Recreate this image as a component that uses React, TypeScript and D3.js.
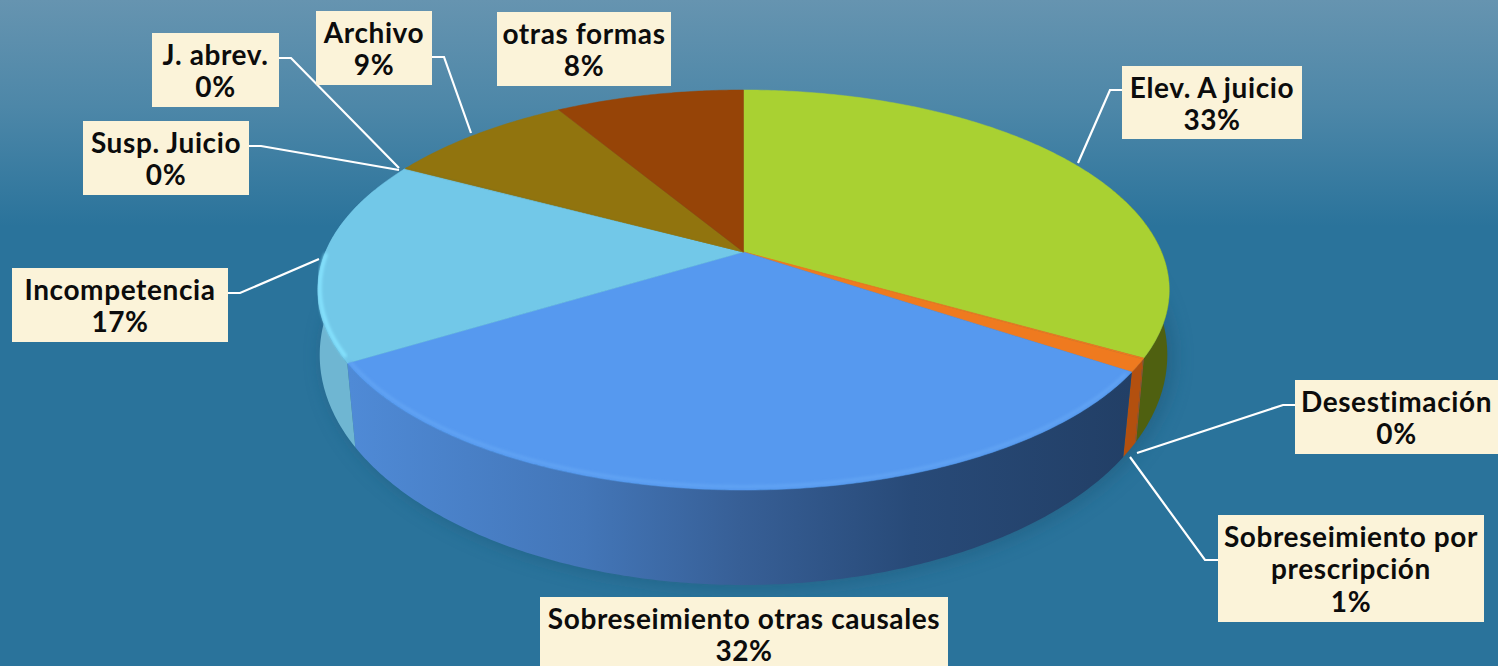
import React from "react";
import * as d3 from "d3";

const categories = ["Elev. A juicio", "Desestimación", "Sobreseimiento por prescripción", "Sobreseimiento otras causales", "Incompetencia", "Susp. Juicio", "J. abrev.", "Archivo", "otras formas"];
const values = [33.3, 0.1, 1.0, 31.9, 16.4, 0.1, 0.1, 8.5, 8.6];
const percentLabels = ["33%", "0%", "1%", "32%", "17%", "0%", "0%", "9%", "8%"];

const topColors = ["#a9d132", "#ef7a1f", "#ef7a1f", "#5699ef", "#72c8e8", "#72c8e8", "#91740e", "#91740e", "#964407"];
const wallColors = ["#4f6010", "#b3500f", "#b3500f", "url(#blueWall)", "#6fb6d2", "#6fb6d2", "#6b5608", "#6b5608", "#6b3005"];

type Box = { x: number; y: number; w: number; h: number; lines: string[]; leader: [number, number][] };
const boxes: Box[] = [
  { x: 1122, y: 66, w: 180, h: 73, lines: ["Elev. A juicio"], leader: [[1122, 90], [1110, 90], [1078, 163]] },
  { x: 1295, y: 380, w: 203, h: 74, lines: ["Desestimación"], leader: [[1295, 405], [1283, 405], [1137, 453]] },
  { x: 1218, y: 515, w: 266, h: 107, lines: ["Sobreseimiento por", "prescripción"], leader: [[1218, 560], [1205, 560], [1130, 457]] },
  { x: 540, y: 597, w: 408, h: 74, lines: ["Sobreseimiento otras causales"], leader: [] },
  { x: 12, y: 268, w: 216, h: 74, lines: ["Incompetencia"], leader: [[228, 293], [240, 293], [319, 259]] },
  { x: 83, y: 121, w: 166, h: 74, lines: ["Susp. Juicio"], leader: [[249, 146], [261, 146], [399, 170]] },
  { x: 152, y: 33, w: 127, h: 74, lines: ["J. abrev."], leader: [[279, 58], [291, 58], [399, 168]] },
  { x: 316, y: 11, w: 116, h: 74, lines: ["Archivo"], leader: [[432, 57], [444, 57], [471, 133]] },
  { x: 497, y: 12, w: 174, h: 74, lines: ["otras formas"], leader: [] },
];

const W = 1498, H = 666;
const CX = 743.5;

// perspective projection of a tilted disc: t is the clockwise angle from the top
const project = (t: number, p: number, y0: number, kx: number, ky: number): [number, number] => {
  const u = Math.sin(t), v = -Math.cos(t);
  const w = 1 + p * v;
  return [CX + (kx * u) / w, y0 + (ky * v) / w];
};
const topRim = (t: number) => project(t, -0.19, 252, 418, 192.8);
const botRim = (t: number) => project(t, -0.15, 320.5, 419, 224.8);

const arcPts = (a: number, b: number, f: (t: number) => [number, number]) => {
  const n = Math.max(2, Math.ceil(Math.abs(b - a) / 0.01));
  return d3.range(n + 1).map((i) => f(a + ((b - a) * i) / n));
};

const line = d3.line<[number, number]>().x((d) => d[0]).y((d) => d[1]);
const slices = d3.pie<number>().sort(null).value((d) => d)(values);
const FULL = Math.PI * 2;
const VIS0 = (70 / 180) * Math.PI, VIS1 = (290 / 180) * Math.PI;

export default function App() {
  React.useEffect(() => { document.body.style.margin = "0"; document.body.style.overflow = "hidden"; }, []);
  return (
    <svg width={W} height={H} viewBox={`0 0 ${W} ${H}`} style={{ display: "block", position: "absolute", left: 0, top: 0 }}>
      <defs>
        <linearGradient id="bg" x1="0" y1="0" x2="0" y2="1">
          <stop offset="0" stopColor="#6694b0" />
          <stop offset="0.16" stopColor="#4d87a8" />
          <stop offset="0.34" stopColor="#2a739b" />
          <stop offset="1" stopColor="#2a739b" />
        </linearGradient>
        <linearGradient id="blueWall" gradientUnits="userSpaceOnUse" x1="350" y1="0" x2="1130" y2="0">
          <stop offset="0" stopColor="#4f8ad6" />
          <stop offset="0.3" stopColor="#4376b8" />
          <stop offset="0.5" stopColor="#375f96" />
          <stop offset="0.72" stopColor="#284a78" />
          <stop offset="1" stopColor="#223f66" />
        </linearGradient>
        <filter id="soft" x="-20%" y="-20%" width="140%" height="140%"><feGaussianBlur stdDeviation="10" /></filter>
        <filter id="edge" x="-5%" y="-5%" width="110%" height="110%"><feGaussianBlur stdDeviation="1.5" /></filter>
      </defs>
      <rect width={W} height={H} fill="url(#bg)" />

      <path d={line(arcPts(0, FULL, (t) => { const [x, y] = botRim(t); return [x + 5, y + 2]; }))! + "Z"} fill="#1c5474" opacity={0.55} filter="url(#soft)" />

      {slices.map((s, i) => {
        const a = Math.max(s.startAngle, VIS0), b = Math.min(s.endAngle, VIS1);
        if (b <= a) return null;
        const pts = [...arcPts(a, b, topRim), ...arcPts(b, a, botRim)];
        return <path key={i} d={line(pts)! + "Z"} fill={wallColors[i]} />;
      })}

      {slices.map((s, i) => {
        const pts: [number, number][] = [[CX, 252], ...arcPts(s.startAngle, s.endAngle, topRim)];
        return <path key={i} d={line(pts)! + "Z"} fill={topColors[i]} stroke={topColors[i]} strokeWidth={0.5} />;
      })}

      {/* soft bevel along the rim */}
      {[3, 4].map((i) => {
        const s = slices[i];
        const inset = (t: number) => project(t, -0.19, 250.5, 416, 191.3);
        const from = s.startAngle + 0.02;
        const to = i === 4 ? s.endAngle - 0.5 : s.endAngle - 0.005;
        return <path key={i} d={line(arcPts(from, to, inset))!} fill="none" stroke={i === 3 ? "#64a6f5" : "#86e4ff"} strokeWidth={i === 4 ? 3.5 : 2.5} filter="url(#edge)" />;
      })}

      {boxes.map((b, i) => b.leader.length > 0 && (
        <path key={i} d={line(b.leader)!} fill="none" stroke="#fff" strokeWidth={2.2} />
      ))}

      {boxes.map((b, i) => {
        const tx = b.x + b.w / 2;
        const ls = [...b.lines, percentLabels[i]];
        return (
          <g key={i} aria-label={categories[i]}>
            <rect x={b.x} y={b.y} width={b.w} height={b.h} fill="#fbf3d9" />
            <text textAnchor="middle" fontFamily="Lato, 'Noto Sans', sans-serif" fontWeight={700} fontSize={28} fill="#0c0c0c" letterSpacing={0.6}>
              {ls.map((l, j) => <tspan key={j} x={tx} y={b.y + 31.5 + j * 32.5}>{l}</tspan>)}
            </text>
          </g>
        );
      })}
    </svg>
  );
}
